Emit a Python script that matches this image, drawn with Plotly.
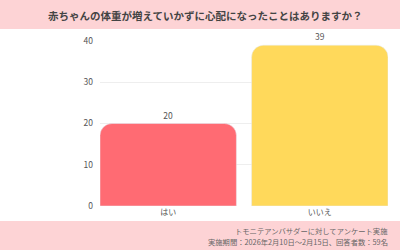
import plotly.graph_objects as go

categories = ["はい", "いいえ"]
values = [20, 39]
colors = ["#FF6B73", "#FFD95B"]
title_text = "赤ちゃんの体重が増えていかずに心配になったことはありますか？"
footer_lines = ["トモニテアンバサダーに対してアンケート実施",
                "実施期間：2026年2月10日〜2月15日、回答者数：59名"]
y_ticks = [0, 10, 20, 30, 40]

W, H = 400, 250
L, R, T, B = 100, 12, 41, 44
pw, ph = W - L - R, H - T - B

def px_x(p):
    return (p - L) / pw

def px_y(p):
    return (H - B - p) / ph

font = "Noto Sans CJK JP"
pink = "#FDD3D5"

fig = go.Figure(go.Bar(
    x=categories, y=values, marker_color=colors,
    text=[str(v) for v in values], textposition="outside",
    textfont=dict(size=8.5, color="#555", family=font),
    cliponaxis=False,
))

fig.update_layout(
    width=W, height=H,
    margin=dict(l=L, r=R, t=T, b=B),
    paper_bgcolor="white", plot_bgcolor="white",
    bargap=0.1, barcornerradius=12,
    showlegend=False,
    font=dict(family=font, color="#555", size=8.5),
    xaxis=dict(range=[-0.45, 1.45], showgrid=False, zeroline=False,
               showline=False, ticks="", tickfont=dict(size=8, color="#555")),
    yaxis=dict(range=[0, 40], tickvals=y_ticks, showgrid=True, gridcolor="#EEEEEE",
               zeroline=False, showline=False, ticks="",
               tickfont=dict(size=8.5, color="#555"), ticklabelstandoff=6),
    shapes=[
        dict(type="rect", xref="paper", yref="paper", layer="below",
             x0=px_x(0), x1=px_x(W), y0=px_y(29), y1=px_y(0),
             fillcolor=pink, line_width=0),
        dict(type="rect", xref="paper", yref="paper", layer="below",
             x0=px_x(0), x1=px_x(W), y0=px_y(H), y1=px_y(221),
             fillcolor=pink, line_width=0),
    ],
    annotations=[
        dict(text="<b>" + title_text + "</b>", xref="paper", yref="paper",
             x=px_x(205), y=px_y(15), xanchor="center", yanchor="middle",
             showarrow=False, font=dict(size=10.5, color="#444", family=font)),
        dict(text=footer_lines[0], xref="paper", yref="paper",
             x=px_x(390), y=px_y(230.5), xanchor="right", yanchor="middle",
             showarrow=False, font=dict(size=7.3, color="#666", family=font)),
        dict(text=footer_lines[1], xref="paper", yref="paper",
             x=px_x(390), y=px_y(241.5), xanchor="right", yanchor="middle",
             showarrow=False, font=dict(size=7.3, color="#666", family=font)),
    ],
)

fig.write_html("out.html")
